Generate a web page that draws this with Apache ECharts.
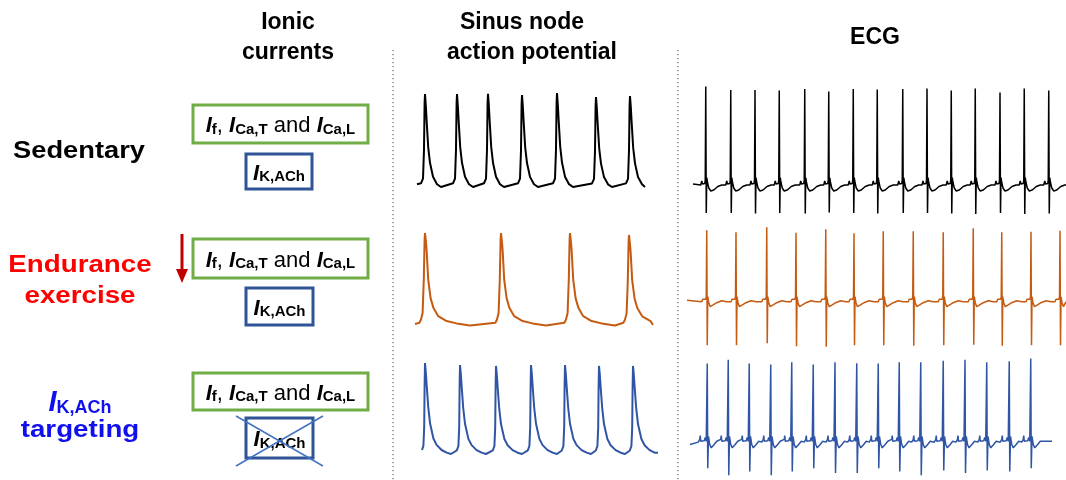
<!DOCTYPE html>
<html><head><meta charset="utf-8">
<script src="https://cdn.jsdelivr.net/npm/echarts@6/dist/echarts.min.js"></script>
<style>html,body{margin:0;padding:0;background:#fff}#c{width:1066px;height:480px}</style>
</head><body><div id="c"></div>
<script>
// ================= DATA =================
const columnTitles = [['Ionic', 'currents'], ['Sinus node', 'action potential'], ['ECG']];
const rowLabels = [['Sedentary'], ['Endurance', 'exercise'], ['I_K,ACh', 'targeting']];

// Sinus node action potentials: spike times (ms) and peak potentials (mV); MDP = -60 mV
const apSedTimes = [40, 200, 355, 525, 700, 895, 1065];
const apSedPeaks = [19.1, 19.1, 19.4, 18.3, 20, 16.6, 17.4];
const apEndTimes = [50, 430, 775, 1070];
const apEndPeaks = [20, 20, 20, 18.3];
const apIkTimes = [15, 190, 370, 545, 715, 885, 1055];
const apIkPeaks = [20, 18.2, 17.4, 18.2, 18.2, 17.4, 17.4];
// AP waveform shapes: [ms from peak, fraction of amplitude above MDP]
const apSedShape = [[-20,0.04],[-10,0.09],[-5,0.4],[-2,0.9],[0,1],[4,0.88],[8,0.72],[16,0.43],[25,0.26],[40,0.11],[60,0.03],[80,0]];
const apEndShape = [[-28,0.035],[-20,0.07],[-12,0.14],[-6,0.5],[-2,0.93],[0,1],[4,0.92],[8,0.82],[16,0.5],[28,0.3],[42,0.195],[66,0.106],[108,0.053],[158,0.028],[225,0.005]];
const apIkShape = [[-16,0.04],[-8,0.09],[-4,0.3],[-2,0.75],[0,1],[4,0.9],[8,0.77],[16,0.52],[25,0.34],[42,0.17],[58,0.1],[83,0.044],[108,0.015],[130,0]];

// ECG: R-wave times (ms), R amplitudes and S amplitudes (mV)
const ecgSedTimes = [51, 151, 248, 345, 447, 543, 641, 737, 839, 936, 1033, 1129, 1228, 1325, 1423];
const ecgSedR = [1.97, 1.90, 1.90, 1.89, 1.92, 1.87, 1.92, 1.91, 1.92, 1.93, 1.89, 1.93, 1.85, 1.93, 1.89];
const ecgSedS = [-0.56, -0.56, -0.57, -0.56, -0.57, -0.55, -0.56, -0.57, -0.56, -0.56, -0.57, -0.58, -0.56, -0.58, -0.57];
const ecgEndTimes = [79, 196, 319, 436, 555, 668, 785, 905, 1025, 1145, 1259, 1376, 1492];
const ecgEndR = [1.43, 1.39, 1.49, 1.38, 1.45, 1.37, 1.41, 1.41, 1.39, 1.47, 1.39, 1.40, 1.42];
const ecgEndS = [-0.87, -0.87, -0.83, -0.89, -0.90, -0.87, -0.87, -0.88, -0.87, -0.86, -0.88, -0.87, -0.87];
const ecgIkTimes = [69, 153, 237, 323, 407, 493, 580, 667, 753, 837, 923, 1013, 1100, 1187, 1277, 1363];
const ecgIkR = [1.66, 1.74, 1.66, 1.64, 1.69, 1.64, 1.69, 1.67, 1.66, 1.69, 1.69, 1.72, 1.74, 1.69, 1.71, 1.77];
const ecgIkS = [-0.55, -0.70, -0.62, -0.70, -0.62, -0.55, -0.65, -0.65, -0.55, -0.62, -0.70, -0.60, -0.65, -0.60, -0.62, -0.55];
// ECG complex shapes: [ms from R, mV] ('R' / 'S' = that beat's amplitude)
const ecgSedShape = [[-20,0],[-16,0.08],[-13,0.02],[-8,0.04],[-4,0.03],[-2,0.1],[0,'R'],[2,'S'],[4,0.15],[7,0.05],[12,-0.06],[20,-0.12],[32,-0.1],[48,-0.03],[64,0]];
const ecgEndShape = [[-20,0],[-16,0.05],[-12,0.02],[-8,0.08],[-4,0.05],[-2,0.1],[0,'R'],[2,'S'],[4,0.1],[8,-0.02],[14,-0.1],[24,-0.07],[40,-0.02],[60,0.02],[80,0]];
const ecgIkShape = [[-36,0],[-30,0.06],[-28,0.14],[-26,0.02],[-18,0.04],[-12,0.03],[-8,0.1],[-4,0.02],[0,'R'],[2,'S'],[5,0.12],[10,-0.05],[16,-0.12],[26,-0.06],[38,0.02],[46,0]];

// ================= BUILD =================
function buildAP(times, peaks, shape, mdp, tEnd, vStart, vEnd) {
  const pts = [[0, vStart]];
  times.forEach((t, i) => {
    shape.forEach(([dt, f]) => {
      const x = t + dt;
      if (x > 0 && x < tEnd) pts.push([x, mdp + f * (peaks[i] - mdp)]);
    });
  });
  pts.push([tEnd, vEnd]);
  return pts;
}
function buildECG(times, r, s, shape, tEnd, vStart, vEnd) {
  const pts = [[0, vStart]];
  times.forEach((t, i) => {
    shape.forEach(([dt, v]) => {
      const x = t + dt;
      const y = v === 'R' ? r[i] : v === 'S' ? s[i] : v;
      if (x > 0 && x < tEnd) pts.push([x, y]);
    });
  });
  pts.push([tEnd, vEnd]);
  return pts;
}

const FONT = 'Liberation Sans, Arial, sans-serif';
const traces = [
  {grid:{left:417, top:93, width:228, height:94}, xmax:1140, ymin:-60, ymax:20, color:'#000000', w:2,
   data: buildAP(apSedTimes, apSedPeaks, apSedShape, -60, 1140, -57.6, -60)},
  {grid:{left:415, top:233, width:238, height:93}, xmax:1190, ymin:-60, ymax:20, color:'#C55A11', w:2,
   data: buildAP(apEndTimes, apEndPeaks, apEndShape, -60, 1190, -58.3, -59)},
  {grid:{left:422, top:363, width:236, height:91}, xmax:1180, ymin:-60, ymax:20, color:'#2F55A4', w:2,
   data: buildAP(apIkTimes, apIkPeaks, apIkShape, -60, 1180, -56.5, -59)},
  {grid:{left:693, top:85, width:373, height:135}, xmax:1492, ymin:-0.7, ymax:2.0, color:'#000000', w:1.5,
   data: buildECG(ecgSedTimes, ecgSedR, ecgSedS, ecgSedShape, 1492, 0.02, 0)},
  {grid:{left:687, top:224.2, width:379, height:122.5}, xmax:1516, ymin:-0.9, ymax:1.55, color:'#C55A11', w:1.5,
   data: buildECG(ecgEndTimes, ecgEndR, ecgEndS, ecgEndShape, 1516, 0.03, 0)},
  {grid:{left:690, top:357, width:362, height:130}, xmax:1448, ymin:-0.8, ymax:1.8, color:'#2F55A4', w:1.5,
   data: buildECG(ecgIkTimes, ecgIkR, ecgIkS, ecgIkShape, 1448, -0.05, 0.02)}
];

// ================= GRAPHICS =================
function txt(cx, cy, text, size, color, sx, extra) {
  return Object.assign({type:'text', x:cx, y:cy, scaleX:sx || 1, silent:true,
    style:{text:text, x:0, y:0, align:'center', verticalAlign:'middle', fill:color,
      font:'bold ' + size + 'px ' + FONT}}, extra || {});
}
const richBox = {
  i:{fontStyle:'italic', fontWeight:'bold', fontSize:22, fontFamily:FONT, lineHeight:26, verticalAlign:'bottom'},
  s:{fontWeight:'bold', fontSize:15, fontFamily:FONT, lineHeight:15, verticalAlign:'bottom'},
  n:{fontWeight:'normal', fontSize:22, fontFamily:FONT, lineHeight:26, verticalAlign:'bottom'}
};
function richTxt(cx, cy, str, rich, color) {
  return {type:'text', x:cx, y:cy, silent:true,
    style:{text:str, x:0, y:0, align:'center', verticalAlign:'middle', fill:color || '#000', rich:rich}};
}
const greenStr = '{i|I}{s|f}{n|, }{i|I}{s|Ca,T}{n| and }{i|I}{s|Ca,L}';
const blueStr = '{i|I}{s|K,ACh}';
const G = '#70AD47', B = '#2F5597';
function rect(x, y, w, h, c) {
  return {type:'rect', silent:true, shape:{x:x, y:y, width:w, height:h}, style:{fill:'#fff', stroke:c, lineWidth:3}};
}
function line(x1, y1, x2, y2, style) {
  return {type:'line', silent:true, shape:{x1:x1, y1:y1, x2:x2, y2:y2}, style:style};
}
const graphics = [
  // column titles
  txt(288, 23, columnTitles[0][0], 23, '#000', 1),
  txt(288, 53, columnTitles[0][1], 23, '#000', 1),
  txt(522, 23, columnTitles[1][0], 23, '#000', 1),
  txt(532, 53, columnTitles[1][1], 23, '#000', 1),
  txt(875, 38, columnTitles[2][0], 23, '#000', 1),
  // separators
  line(393, 50, 393, 480, {stroke:'#444', lineWidth:1, lineDash:[1.2, 2.8]}),
  line(678, 50, 678, 480, {stroke:'#444', lineWidth:1, lineDash:[1.2, 2.8]}),
  // row labels
  txt(79, 152, rowLabels[0][0], 23.5, '#000', 1.16),
  txt(80, 266, rowLabels[1][0], 23.5, '#FF0000', 1.18),
  txt(80, 297, rowLabels[1][1], 23.5, '#FF0000', 1.18),
  richTxt(80, 401, '{i|I}{s|K,ACh}', {
    i:{fontStyle:'italic', fontWeight:'bold', fontSize:29, fontFamily:FONT, lineHeight:32, verticalAlign:'bottom'},
    s:{fontWeight:'bold', fontSize:18, fontFamily:FONT, lineHeight:18, verticalAlign:'bottom'}}, '#1010EE'),
  txt(80, 431, rowLabels[2][1], 23.5, '#1010EE', 1.18),
  // boxes row 1
  rect(193, 105, 175, 38, G), richTxt(280.5, 124, greenStr, richBox),
  rect(246, 154, 66, 35, B), richTxt(279, 171.5, blueStr, richBox),
  // row 2
  rect(193, 239, 175, 39, G), richTxt(280.5, 258.5, greenStr, richBox),
  rect(246, 288, 67, 37, B), richTxt(279.5, 306.5, blueStr, richBox),
  // arrow
  line(182, 234, 182, 270, {stroke:'#C00000', lineWidth:3}),
  {type:'polygon', silent:true, shape:{points:[[176,269],[188,269],[182,283]]}, style:{fill:'#C00000'}},
  // row 3
  rect(193, 373, 175, 37, G), richTxt(280.5, 391.5, greenStr, richBox),
  rect(246, 418, 67, 40, B), richTxt(279.5, 438, blueStr, richBox),
  line(236, 416, 323, 466, {stroke:'#4472C4', lineWidth:1.5}),
  line(236, 466, 323, 416, {stroke:'#4472C4', lineWidth:1.5})
];

const chart = echarts.init(document.getElementById('c'), null, {renderer:'canvas'});
chart.setOption({
  animation:false,
  backgroundColor:'#fff',
  grid: traces.map(t => Object.assign({containLabel:false}, t.grid)),
  xAxis: traces.map((t, i) => ({type:'value', gridIndex:i, min:0, max:t.xmax, show:false})),
  yAxis: traces.map((t, i) => ({type:'value', gridIndex:i, min:t.ymin, max:t.ymax, show:false})),
  series: traces.map((t, i) => ({type:'line', xAxisIndex:i, yAxisIndex:i, data:t.data, showSymbol:false,
    symbol:'none', clip:false, silent:true, lineStyle:{color:t.color, width:t.w}, z:3})),
  graphic: graphics
});
</script></body></html>
